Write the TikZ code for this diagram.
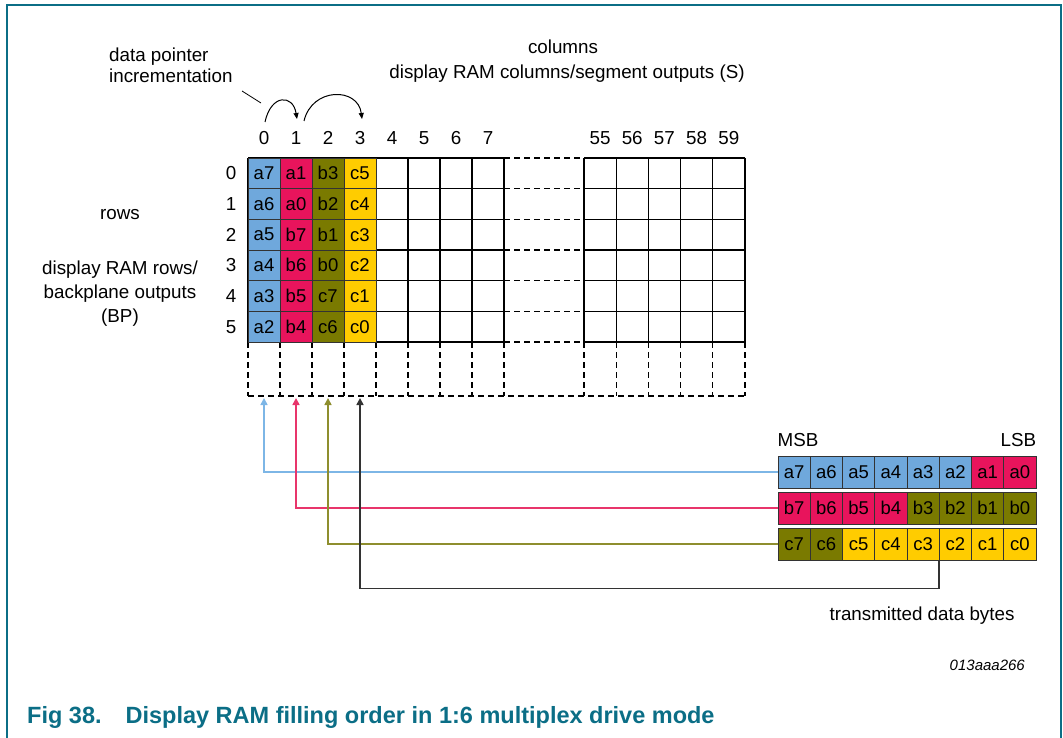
\documentclass[tikz,border=0pt]{standalone}
\usepackage{fontspec}
\setmainfont{Liberation Sans}
\usetikzlibrary{positioning,calc,arrows.meta}
\definecolor{FrameTeal}{HTML}{0B6E86}
\definecolor{CellBlue}{HTML}{6FA8DC}
\definecolor{CellRed}{HTML}{E8145C}
\definecolor{CellOlive}{HTML}{7A7A00}
\definecolor{CellYellow}{HTML}{FFCC00}
\definecolor{LineBlue}{HTML}{7DB6E6}
\definecolor{LineRed}{HTML}{E8356B}
\definecolor{LineOlive}{HTML}{8E8E2E}
\definecolor{LineDark}{HTML}{333333}

\tikzset{
  ramcell/.style={draw=black!80, line width=0.9pt, minimum width=32pt, minimum height=30.67pt, inner sep=0pt, font=\fontsize{18.5}{20}\selectfont},
  bytecell/.style={ramcell, minimum width=32.25pt, minimum height=32pt},
  lbl/.style={font=\fontsize{18.8}{21}\selectfont, inner sep=0pt},
  feed/.style={line width=1.6pt, -{Triangle[length=7pt,width=7pt]}},
  ptr/.style={line width=1pt, -{Triangle[length=6pt,width=5pt]}},
  gridline/.style={line width=1.3pt},
  gapline/.style={line width=1.2pt, dash pattern=on 6pt off 4pt},
}

\begin{document}
\begin{tikzpicture}[x=1pt, y=-1pt]
  \useasboundingbox (0,0) rectangle (1063,738);
  % frame
  \draw[FrameTeal, line width=2pt] (7,738) -- (7,5) -- (1061,5) -- (1061,738);

  % RAM grid
  \foreach \i in {0,...,6} {
    \draw[gridline] (248,158+\i*30.67) -- (504,158+\i*30.67);
    \draw[gridline] (584,158+\i*30.67) -- (745,158+\i*30.67);
    \draw[gapline] (504,158+\i*30.67) -- (584,158+\i*30.67);
  }
  \foreach \c in {0,...,8} {
    \draw[gridline] (248+\c*32,158) -- (248+\c*32,342);
    \draw[gapline] (248+\c*32,342) -- (248+\c*32,396);
  }
  \foreach \c in {0,...,5} {
    \draw[gridline] (584+\c*32.2,158) -- (584+\c*32.2,342);
    \draw[gapline] (584+\c*32.2,342) -- (584+\c*32.2,396);
  }
  \draw[gapline] (248,396) -- (745,396);

  % filled cells
  \foreach \txt [count=\r from 0] in {a7,a6,a5,a4,a3,a2}
    \node[ramcell, fill=CellBlue] (g0-\r) at (264,173.33+\r*30.67) {\txt};
  \foreach \txt [count=\r from 0] in {a1,a0,b7,b6,b5,b4}
    \node[ramcell, fill=CellRed] (g1-\r) at (296,173.33+\r*30.67) {\txt};
  \foreach \txt [count=\r from 0] in {b3,b2,b1,b0,c7,c6}
    \node[ramcell, fill=CellOlive] (g2-\r) at (328,173.33+\r*30.67) {\txt};
  \foreach \txt [count=\r from 0] in {c5,c4,c3,c2,c1,c0}
    \node[ramcell, fill=CellYellow] (g3-\r) at (360,173.33+\r*30.67) {\txt};

  % column and row numbers
  \foreach \n [count=\c from 0] in {0,...,7}
    \node[lbl] (col\n) at (264+\c*32,138) {\n};
  \foreach \n [count=\c from 0] in {55,...,59}
    \node[lbl] (col\n) at (600+\c*32.2,138) {\n};
  \foreach \r in {0,...,5}
    \node[lbl] (row\r) at (231,173.33+\r*30.67) {\r};

  % labels
  \node[lbl, align=left, anchor=west] (ptrlbl) at (109,65.5) {data pointer\\incrementation};
  \node[lbl] (colhead) at (563,47) {columns};
  \node[lbl] (colsub) at (567,74) {display RAM columns/segment outputs (S)};
  \node[lbl] (rowhead) at (120,215) {rows};
  \node[lbl, align=center, font=\fontsize{18.8}{24}\selectfont] (rowsub) at (120,294) {display RAM rows/\\backplane outputs\\(BP)};

  % pointer increments
  \coordinate (p0) at (265,122);
  \coordinate (p1in) at (297,119);
  \coordinate (p1out) at (304,121);
  \coordinate (p3) at (362,119);
  \coordinate (leadA) at (242,91);
  \coordinate (leadB) at (261,103);
  \draw[ptr] (p0) .. controls (271,94) and (293,94) .. (p1in);
  \draw[ptr] (p1out) .. controls (312,87) and (358,87) .. (p3);
  \draw[line width=0.8pt] (leadA) -- (leadB);

  % transmitted bytes
  \foreach \txt/\col [count=\k from 0] in {a7/CellBlue,a6/CellBlue,a5/CellBlue,a4/CellBlue,a3/CellBlue,a2/CellBlue,a1/CellRed,a0/CellRed}
    \node[bytecell, fill=\col] (ba-\k) at (794.1+\k*32.25,472) {\txt};
  \foreach \txt/\col [count=\k from 0] in {b7/CellRed,b6/CellRed,b5/CellRed,b4/CellRed,b3/CellOlive,b2/CellOlive,b1/CellOlive,b0/CellOlive}
    \node[bytecell, fill=\col] (bb-\k) at (794.1+\k*32.25,508) {\txt};
  \foreach \txt/\col [count=\k from 0] in {c7/CellOlive,c6/CellOlive,c5/CellYellow,c4/CellYellow,c3/CellYellow,c2/CellYellow,c1/CellYellow,c0/CellYellow}
    \node[bytecell, fill=\col] (bc-\k) at (794.1+\k*32.25,544) {\txt};

  \node[lbl, anchor=base west] (msb) at ($(ba-0.north west)+(0,-9)$) {MSB};
  \node[lbl, anchor=base east] (lsb) at ($(ba-7.north east)+(0,-9)$) {LSB};
  \node[lbl] (txlbl) at (922,616) {transmitted data bytes};

  % feeds into the columns
  \foreach \c in {0,...,3}
    \coordinate (in\c) at (264+\c*32,398);
  \draw[feed, LineBlue] (ba-0.west) -| (in0);
  \draw[feed, LineRed] (bb-0.west) -| (in1);
  \draw[feed, LineOlive] (bc-0.west) -| (in2);
  \draw[feed, LineDark] (bc-5.south west) -- ++(0,28) -| (in3);

  \node[font=\fontsize{15}{18}\selectfont\itshape, anchor=east, inner sep=0pt] (figid) at (1025,665) {013aaa266};
  \node[font=\fontsize{23.5}{27}\selectfont\bfseries, text=FrameTeal, anchor=base west, inner sep=0pt] (caption) at (27,723) {Fig 38.\hspace{24pt}Display RAM filling order in 1:6 multiplex drive mode};
\end{tikzpicture}
\end{document}
